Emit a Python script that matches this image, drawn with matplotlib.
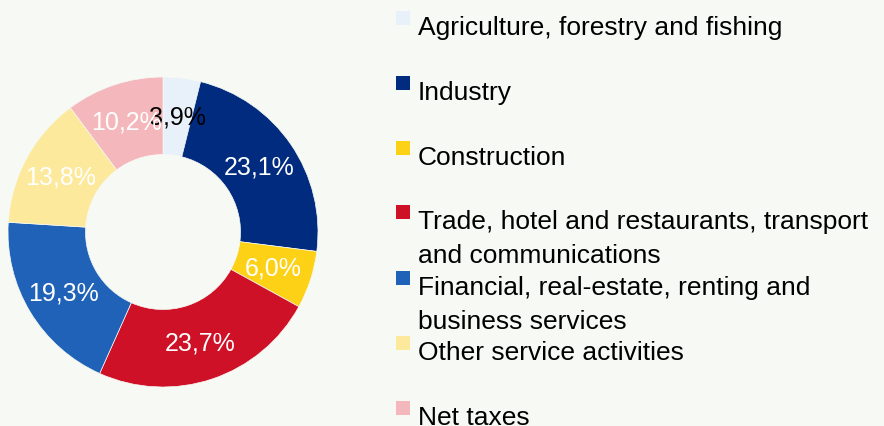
import matplotlib.pyplot as plt
from matplotlib.patches import Rectangle

# GDP structure by sector (%)
sectors = [
    "Agriculture, forestry and fishing",
    "Industry",
    "Construction",
    "Trade, hotel and restaurants, transport\nand communications",
    "Financial, real-estate, renting and\nbusiness services",
    "Other service activities",
    "Net taxes",
]
shares = [3.9, 23.1, 6.0, 23.7, 19.3, 13.8, 10.2]
colors = ["#E8F0FA", "#002B7F", "#FCD116", "#CE1126", "#1F62B8", "#FDE99B", "#F4B8BC"]
label_colors = ["black", "white", "white", "white", "white", "white", "white"]

bg = "#F7F9F4"
plt.rcParams['font.family'] = ['Liberation Sans', 'DejaVu Sans']

W, H = 884, 427
fig = plt.figure(figsize=(W / 100, H / 100), dpi=100, facecolor=bg)

# donut axes: centre (163, 233) px from top-left, radius 155 px
cx, cy, r = 163, 233, 155
ax = fig.add_axes([(cx - r) / W, (H - cy - r) / H, 2 * r / W, 2 * r / H])
ax.set_facecolor(bg)

wedges, texts, autotexts = ax.pie(
    shares, colors=colors, startangle=90, counterclock=False,
    radius=1, wedgeprops=dict(width=0.5, edgecolor=bg, linewidth=0.5),
    autopct=lambda p: "", pctdistance=0.75,
)
for t, v, c in zip(autotexts, shares, label_colors):
    t.set_text(f"{v:.1f}%".replace(".", ","))
    t.set_color(c)
    t.set_fontsize(18)
ax.set_xlim(-1, 1)
ax.set_ylim(-1, 1)
ax.set_aspect("equal")
ax.axis("off")

# legend drawn by hand (baseline of first line, px from top)
baselines = [35, 100, 165, 229, 295, 360, 425]
line_pitch = 34
for name, col, b in zip(sectors, colors, baselines):
    fig.patches.append(Rectangle((396 / W, (H - b + 9) / H), 14 / W, 14 / H,
                                 transform=fig.transFigure, facecolor=col,
                                 edgecolor="none"))
    for i, line in enumerate(name.split("\n")):
        fig.text(418 / W, (H - b - i * line_pitch) / H, line, fontsize=19,
                 va="baseline", ha="left", color="black")

plt.savefig("out.png", dpi=100, facecolor=bg)
